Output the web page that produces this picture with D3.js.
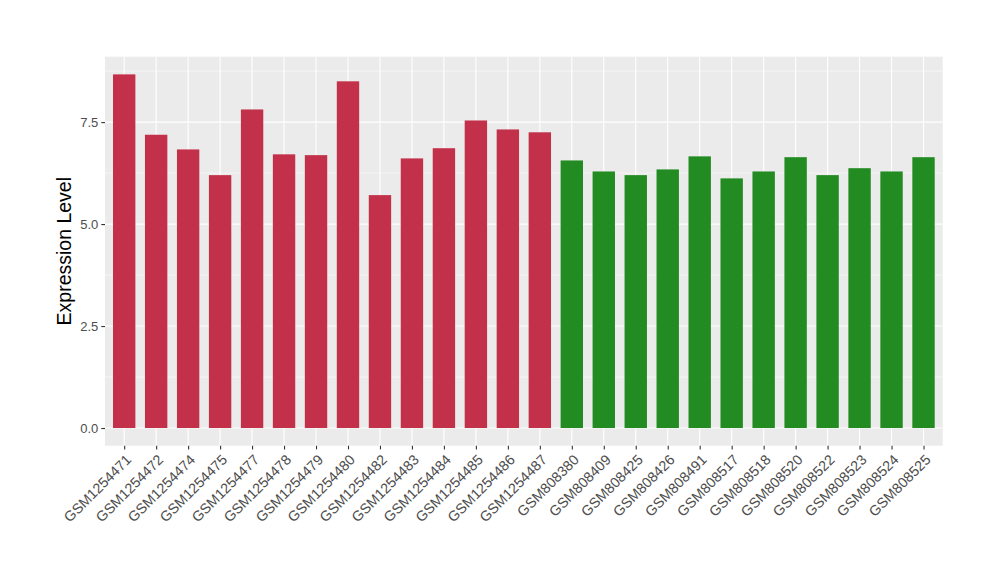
<!DOCTYPE html>
<html>
<head>
<meta charset="utf-8">
<script src="https://cdn.jsdelivr.net/npm/d3@7"></script>
<style>
  html, body { margin: 0; padding: 0; background: #ffffff; }
  svg { display: block; }
  text { font-family: "Liberation Sans", Arial, Helvetica, sans-serif; }
</style>
</head>
<body>
<svg id="chart" width="1000" height="580"></svg>
<script>
const categories = [
  "GSM1254471","GSM1254472","GSM1254474","GSM1254475","GSM1254477","GSM1254478",
  "GSM1254479","GSM1254480","GSM1254482","GSM1254483","GSM1254484","GSM1254485",
  "GSM1254486","GSM1254487","GSM808380","GSM808409","GSM808425","GSM808426",
  "GSM808491","GSM808517","GSM808518","GSM808520","GSM808522","GSM808523",
  "GSM808524","GSM808525"
];
const values = [
  8.67, 7.19, 6.83, 6.20, 7.81, 6.71,
  6.69, 8.50, 5.71, 6.61, 6.86, 7.54,
  7.32, 7.25, 6.56, 6.29, 6.20, 6.34,
  6.66, 6.12, 6.29, 6.64, 6.20, 6.37,
  6.29, 6.64
];
const groups = [
  "A","A","A","A","A","A","A","A","A","A","A","A","A","A",
  "B","B","B","B","B","B","B","B","B","B","B","B"
];
const groupColors = { A: "#C3304A", B: "#228B22" };
const yTicks = [0, 2.5, 5.0, 7.5];
const yMinorTicks = [1.25, 3.75, 6.25, 8.75];
const yTitle = "Expression Level";

const svg = d3.select("#chart");
const panel = { left: 105, top: 56.7, right: 942.7, bottom: 445.7 };

const n = categories.length;
const step = (panel.right - panel.left) / (n - 1 + 1.2);
const x = d3.scalePoint()
  .domain(categories)
  .range([panel.left + 0.6 * step, panel.right - 0.6 * step]);
const barW = step * 0.7;

const maxV = d3.max(values);
const y = d3.scaleLinear()
  .domain([-0.05 * maxV, maxV * 1.05])
  .range([panel.bottom, panel.top]);

// panel background
svg.append("rect")
  .attr("x", panel.left).attr("y", panel.top)
  .attr("width", panel.right - panel.left).attr("height", panel.bottom - panel.top)
  .attr("fill", "#EBEBEB");

// minor grid
svg.append("g").selectAll("line").data(yMinorTicks).join("line")
  .attr("x1", panel.left).attr("x2", panel.right)
  .attr("y1", d => y(d)).attr("y2", d => y(d))
  .attr("stroke", "#FFFFFF").attr("stroke-width", 0.55);

// major grid y
svg.append("g").selectAll("line").data(yTicks).join("line")
  .attr("x1", panel.left).attr("x2", panel.right)
  .attr("y1", d => y(d)).attr("y2", d => y(d))
  .attr("stroke", "#FFFFFF").attr("stroke-width", 1.1);

// major grid x
svg.append("g").selectAll("line").data(categories).join("line")
  .attr("x1", d => x(d)).attr("x2", d => x(d))
  .attr("y1", panel.top).attr("y2", panel.bottom)
  .attr("stroke", "#FFFFFF").attr("stroke-width", 1.1);

// bars
svg.append("g").selectAll("rect").data(categories).join("rect")
  .attr("x", d => x(d) - barW / 2)
  .attr("width", barW)
  .attr("y", (d, i) => y(values[i]))
  .attr("height", (d, i) => y(0) - y(values[i]))
  .attr("fill", (d, i) => groupColors[groups[i]]);

// y axis
const yAxis = d3.axisLeft(y).tickValues(yTicks).tickFormat(d3.format(".1f")).tickSize(3.7).tickPadding(3);
const gy = svg.append("g").attr("transform", `translate(${panel.left},0)`).call(yAxis);
gy.select(".domain").remove();
gy.selectAll(".tick line").attr("stroke", "#333333").attr("stroke-width", 1.1);
gy.selectAll(".tick text").attr("fill", "#4D4D4D").style("font-size", "13px")
  .style("font-family", "'Liberation Sans', Arial, sans-serif");

// x axis
const xAxis = d3.axisBottom(x).tickSize(3.7).tickPadding(2);
const gx = svg.append("g").attr("transform", `translate(0,${panel.bottom})`).call(xAxis);
gx.select(".domain").remove();
gx.selectAll(".tick line").attr("stroke", "#333333").attr("stroke-width", 1.1);
gx.selectAll(".tick text")
  .attr("fill", "#4D4D4D")
  .style("font-size", "14.3px")
  .style("font-family", "'Liberation Sans', Arial, sans-serif")
  .attr("text-anchor", "end")
  .attr("y", 0).attr("dy", 0)
  .attr("transform", "translate(7.5,15) rotate(-45)");

// y title
svg.append("text")
  .attr("transform", `translate(71,${(panel.top + panel.bottom) / 2}) rotate(-90)`)
  .attr("text-anchor", "middle")
  .attr("fill", "#000000")
  .style("font-size", "19.5px")
  .text(yTitle);
</script>
</body>
</html>
